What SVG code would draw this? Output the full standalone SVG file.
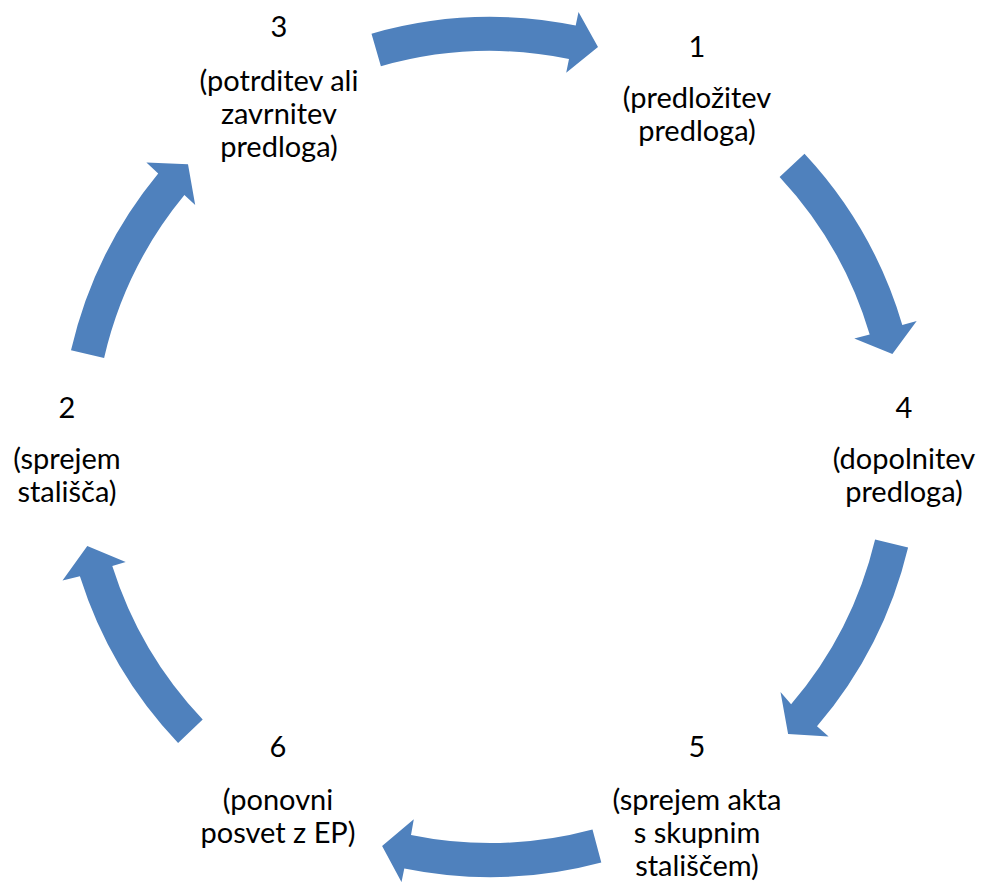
<svg xmlns="http://www.w3.org/2000/svg" width="982" height="882" viewBox="0 0 982 882">
<style>
.arrow{fill:#4F81BD;stroke:none}
.lbl{font-family:Lato,"Open Sans","Liberation Sans",sans-serif;font-size:29px;fill:#000;text-anchor:middle}
</style>
<rect width="982" height="882" fill="#fff"/>
<g id="connectors">
<path id="arrow-3-1" class="arrow" d="M371.5,33.7 A430,430 0 0 1 575.7,25.6 L578.5,11.9 L598.0,47.0 L566.2,72.7 L569.0,59.0 A396,396 0 0 0 380.9,66.3 Z"/>
<path id="arrow-1-4" class="arrow" d="M804.5,153.7 A430,430 0 0 1 902.3,324.9 L916.7,320.9 L892.4,354.1 L854.3,338.5 L869.7,334.5 A396,396 0 0 0 779.6,176.9 Z"/>
<path id="arrow-4-5" class="arrow" d="M908.1,547.4 A430,430 0 0 1 817.0,726.3 L828.6,736.4 L788.1,733.9 L780.5,692.1 L791.1,704.2 A396,396 0 0 0 875.1,539.4 Z"/>
<path id="arrow-5-6" class="arrow" d="M601.3,862.4 A430,430 0 0 1 404.3,868.4 L401.5,882.1 L382.1,845.9 L413.8,819.3 L411.0,835.0 A396,396 0 0 0 592.5,829.5 Z"/>
<path id="arrow-6-2" class="arrow" d="M178.1,743.0 A430,430 0 0 1 79.9,576.3 L62.5,580.5 L87.3,545.9 L125.7,561.9 L112.3,566.1 A396,396 0 0 0 202.7,719.6 Z"/>
<path id="arrow-2-3" class="arrow" d="M71.0,350.3 A430,430 0 0 1 158.2,173.5 L146.4,162.6 L188.0,164.3 L195.2,205.0 L184.4,195.1 A396,396 0 0 0 104.1,357.9 Z"/>
</g>
<g id="node-1">
<text class="lbl" x="697" y="57">1</text>
<text class="lbl" x="697" y="108">(predložitev</text>
<text class="lbl" x="697" y="141">predloga)</text>
</g>
<g id="node-2">
<text class="lbl" x="67" y="418">2</text>
<text class="lbl" x="67" y="469">(sprejem</text>
<text class="lbl" x="67" y="502">stališča)</text>
</g>
<g id="node-3">
<text class="lbl" x="279" y="37">3</text>
<text class="lbl" x="279" y="91">(potrditev ali</text>
<text class="lbl" x="279" y="124">zavrnitev</text>
<text class="lbl" x="279" y="157">predloga)</text>
</g>
<g id="node-4">
<text class="lbl" x="904" y="418">4</text>
<text class="lbl" x="904" y="469">(dopolnitev</text>
<text class="lbl" x="904" y="502">predloga)</text>
</g>
<g id="node-5">
<text class="lbl" x="697" y="757">5</text>
<text class="lbl" x="697" y="810">(sprejem akta</text>
<text class="lbl" x="697" y="843">s skupnim</text>
<text class="lbl" x="697" y="876">stališčem)</text>
</g>
<g id="node-6">
<text class="lbl" x="278" y="757">6</text>
<text class="lbl" x="278" y="810">(ponovni</text>
<text class="lbl" x="278" y="843">posvet z EP)</text>
</g>
</svg>
